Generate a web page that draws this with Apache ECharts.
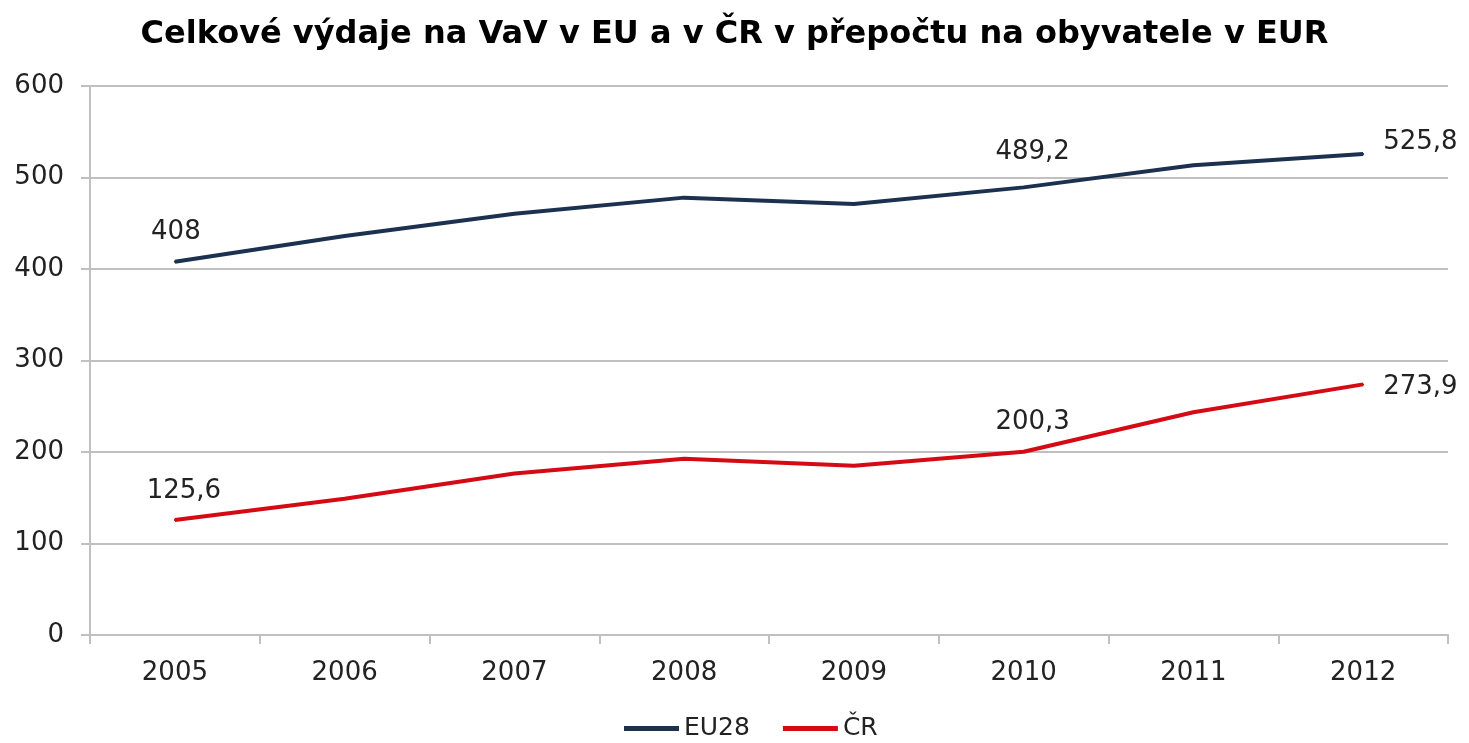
<!DOCTYPE html>
<html>
<head>
<meta charset="utf-8">
<script src="https://cdn.jsdelivr.net/npm/echarts@6/dist/echarts.min.js"></script>
<style>
  html, body { margin: 0; padding: 0; background: #fff; }
  #chart { width: 1469px; height: 743px; }
</style>
</head>
<body>
<div id="chart"></div>
<script>
const years = ["2005", "2006", "2007", "2008", "2009", "2010", "2011", "2012"];
const eu28 = [408, 436, 460.5, 478, 471, 489.2, 513.5, 525.8];
const cr = [125.6, 149, 176.5, 192.5, 185, 200.3, 243.5, 273.9];
// indices that carry a value label
const labelled = [0, 5, 7];

const font = "DejaVu Sans";
const navy = "#1c3050";
const red = "#d40a14";

const fmt = v => String(v).replace(".", ",");

function withLabels(values, lastDy, midDy) {
  return values.map((v, i) => {
    if (labelled.indexOf(i) < 0) return v;
    const last = i === values.length - 1;
    const dx = fmt(v).length > 3 ? 9 : 1;
    return {
      value: v,
      label: {
        show: true,
        position: last ? "right" : "top",
        offset: last ? [14, lastDy] : [dx, i === 0 ? -10 : midDy]
      }
    };
  });
}

function lineSeries(name, values, color, lastDy, midDy) {
  return {
    name: name,
    type: "line",
    data: withLabels(values, lastDy, midDy),
    symbol: "circle",
    symbolSize: 2,
    showSymbol: true,
    itemStyle: { color: color },
    lineStyle: { width: 4, color: color },
    label: {
      fontFamily: font, fontSize: 26, color: "#222",
      formatter: p => fmt(p.value)
    }
  };
}

const chart = echarts.init(document.getElementById("chart"));
chart.setOption({
  animation: false,
  title: {
    text: "Celkové výdaje na VaV v EU a v ČR v přepočtu na obyvatele v EUR",
    left: "center",
    top: 14,
    textStyle: { fontFamily: font, fontWeight: "bold", fontSize: 32, color: "#000" }
  },
  legend: {
    bottom: -3,
    left: 619,
    itemWidth: 55,
    itemHeight: 5,
    itemGap: 33,
    icon: "rect",
    textStyle: { fontFamily: font, fontSize: 25, color: "#222" },
    data: ["EU28", "ČR"]
  },
  grid: { left: 90, right: 21, top: 86, bottom: 108 },
  xAxis: {
    type: "category",
    data: years,
    boundaryGap: true,
    axisLine: { lineStyle: { color: "#c0c0c0", width: 2 } },
    axisTick: { show: true, length: 9, lineStyle: { color: "#c0c0c0", width: 2 } },
    axisLabel: { fontFamily: font, fontSize: 26, color: "#222", margin: 25 }
  },
  yAxis: {
    type: "value",
    min: 0,
    max: 600,
    interval: 100,
    axisLine: { show: true, lineStyle: { color: "#c0c0c0", width: 2 } },
    axisTick: { show: true, length: 9, lineStyle: { color: "#c0c0c0", width: 2 } },
    splitLine: { lineStyle: { color: "#c0c0c0", width: 2 } },
    axisLabel: { fontFamily: font, fontSize: 26, color: "#222", margin: 26 }
  },
  series: [
    lineSeries("EU28", eu28, navy, -12, -16),
    lineSeries("ČR", cr, red, 3, -10)
  ]
});
</script>
</body>
</html>
